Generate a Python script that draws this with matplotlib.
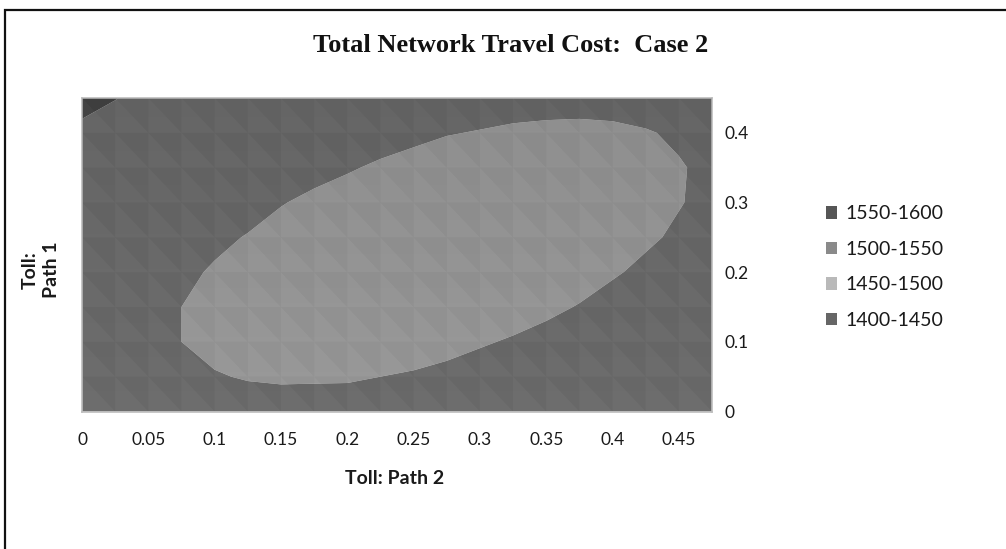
import numpy as np
import matplotlib
matplotlib.use('Agg')
import matplotlib.pyplot as plt
from matplotlib.patches import Patch, Rectangle
from matplotlib.collections import PolyCollection

# Toll grid (path 2 along x, path 1 along y)
toll_path2 = [0.0, 0.025, 0.05, 0.075, 0.1, 0.125, 0.15, 0.175, 0.2, 0.225,
              0.25, 0.275, 0.3, 0.325, 0.35, 0.375, 0.4, 0.425, 0.45, 0.475]
toll_path1 = [0.0, 0.05, 0.1, 0.15, 0.2, 0.25, 0.3, 0.35, 0.4, 0.45]

# Total network travel cost, one row per toll_path1 value (bottom row first)
cost_y000 = [1518, 1515, 1512, 1510, 1508, 1507, 1507, 1508, 1509, 1511, 1514, 1517, 1521, 1525, 1527, 1530, 1533, 1535, 1537, 1538]
cost_y005 = [1515, 1511, 1507, 1504, 1501, 1499, 1498, 1498, 1498, 1500, 1502, 1505, 1509, 1513, 1518, 1522, 1527, 1532, 1536, 1540]
cost_y010 = [1515, 1510, 1505, 1500, 1496, 1493, 1490, 1488, 1488, 1489, 1491, 1494, 1498, 1502, 1506, 1511, 1517, 1522, 1527, 1533]
cost_y015 = [1517, 1511, 1506, 1500, 1495, 1490, 1486, 1482, 1479, 1479, 1480, 1483, 1486, 1491, 1496, 1501, 1507, 1512, 1518, 1524]
cost_y020 = [1522, 1516, 1510, 1504, 1498, 1493, 1487, 1482, 1476, 1472, 1470, 1472, 1476, 1481, 1487, 1492, 1498, 1504, 1509, 1515]
cost_y025 = [1528, 1522, 1516, 1510, 1504, 1499, 1493, 1487, 1482, 1476, 1472, 1468, 1470, 1475, 1480, 1486, 1491, 1497, 1503, 1509]
cost_y030 = [1534, 1529, 1524, 1518, 1513, 1507, 1501, 1496, 1491, 1486, 1482, 1479, 1477, 1478, 1480, 1484, 1489, 1494, 1499, 1505]
cost_y035 = [1538, 1535, 1531, 1527, 1522, 1517, 1511, 1506, 1502, 1497, 1493, 1490, 1488, 1487, 1487, 1488, 1491, 1495, 1499, 1503]
cost_y040 = [1540, 1536, 1532, 1529, 1526, 1523, 1520, 1517, 1513, 1509, 1505, 1501, 1499, 1497, 1496, 1496, 1497, 1499, 1502, 1505]
cost_y045 = [1565, 1551, 1540, 1537, 1535, 1533, 1531, 1528, 1524, 1520, 1517, 1513, 1510, 1508, 1507, 1506, 1506, 1507, 1508, 1510]

cost_rows = [cost_y000, cost_y005, cost_y010, cost_y015, cost_y020,
             cost_y025, cost_y030, cost_y035, cost_y040, cost_y045]

band_levels = [1400, 1450, 1500, 1550, 1600]
band_labels = ['1400-1450', '1450-1500', '1500-1550', '1550-1600']
band_fill = ['#5c5c5c', '#979797', '#6b6b6b', '#454545']
band_legend = ['#666666', '#b9b9b9', '#8a8a8a', '#565656']

x_ticks = [0, 0.05, 0.1, 0.15, 0.2, 0.25, 0.3, 0.35, 0.4, 0.45]
x_ticklabels = ['0', '0.05', '0.1', '0.15', '0.2', '0.25', '0.3', '0.35', '0.4', '0.45']
y_ticks = [0, 0.1, 0.2, 0.3, 0.4]
y_ticklabels = ['0', '0.1', '0.2', '0.3', '0.4']

X, Y = np.meshgrid(toll_path2, toll_path1)
Z = np.array(cost_rows, dtype=float)

fig = plt.figure(figsize=(10.06, 5.49), dpi=100)
fig.patch.set_facecolor('white')

# outer chart frame (left and top edges visible)
fig.add_artist(Rectangle((5 / 1006, -0.1), 1.2, (549 - 10) / 549 + 0.1,
                         transform=fig.transFigure, fill=False,
                         edgecolor='#111111', linewidth=1.6))

ax = fig.add_axes([82 / 1006, (549 - 411.5) / 549, 630 / 1006, 313.5 / 549])
ax.contourf(X, Y, Z, levels=band_levels, colors=band_fill, antialiased=True)

# facet shading of the surface grid: each cell split along its "\" diagonal
dark_tris, light_tris = [], []
for i in range(len(toll_path1) - 1):
    for j in range(len(toll_path2) - 1):
        x0, x1 = toll_path2[j], toll_path2[j + 1]
        y0, y1 = toll_path1[i], toll_path1[i + 1]
        light_tris.append([(x0, y0), (x1, y0), (x0, y1)])
        dark_tris.append([(x1, y1), (x0, y1), (x1, y0)])
ax.add_collection(PolyCollection(light_tris, facecolors=(1, 1, 1, 0.018), edgecolors='none'))
ax.add_collection(PolyCollection(dark_tris, facecolors=(0, 0, 0, 0.018), edgecolors='none'))

# slight top-to-bottom lighting gradient
grad = np.zeros((64, 2, 4))
grad[..., 3] = np.linspace(0.07, 0.0, 64)[:, None]
ax.imshow(grad, extent=(toll_path2[0], toll_path2[-1], toll_path1[0], toll_path1[-1]),
          aspect='auto', origin='upper', zorder=3)

ax.set_xlim(toll_path2[0], toll_path2[-1])
ax.set_ylim(toll_path1[0], toll_path1[-1])

tick_font = dict(family='Lato', size=12.5)
ax.set_xticks(x_ticks)
ax.set_xticklabels(x_ticklabels, fontdict=tick_font, color='#1a1a1a')
ax.tick_params(axis='x', length=0, pad=15)
ax.yaxis.tick_right()
ax.set_yticks(y_ticks)
ax.set_yticklabels(y_ticklabels, fontdict=tick_font, color='#1a1a1a')
ax.tick_params(axis='y', length=0, pad=9)
for s in ax.spines.values():
    s.set_color('#bdbdbd')
    s.set_linewidth(1.2)

fig.text(395 / 1006, 1 - 478 / 549, 'Toll: Path 2', ha='center', va='center',
         family='Lato', fontsize=14, fontweight='bold', color='#1a1a1a')
fig.text(41 / 1006, 1 - 270 / 549, 'Toll:\nPath 1', rotation=90, ha='center', va='center',
         multialignment='center', family='Lato', fontsize=14, fontweight='bold',
         color='#1a1a1a', linespacing=1.3)

fig.text(511 / 1006, 1 - 45 / 549, 'Total Network Travel Cost:  Case 2',
         ha='center', va='center', family='Liberation Serif', fontsize=19,
         fontweight='bold', color='#111111')

handles = [Patch(facecolor=band_legend[k], edgecolor='none', label=band_labels[k])
           for k in range(len(band_labels) - 1, -1, -1)]
fig.legend(handles=handles, loc='center left', bbox_to_anchor=(808 / 1006, 1 - 267 / 549),
           frameon=False, prop=dict(family='Lato', size=14), handlelength=0.6,
           handleheight=0.6, handletextpad=0.45, labelspacing=0.95, labelcolor='#1a1a1a')

fig.savefig('out.png', dpi=100)
